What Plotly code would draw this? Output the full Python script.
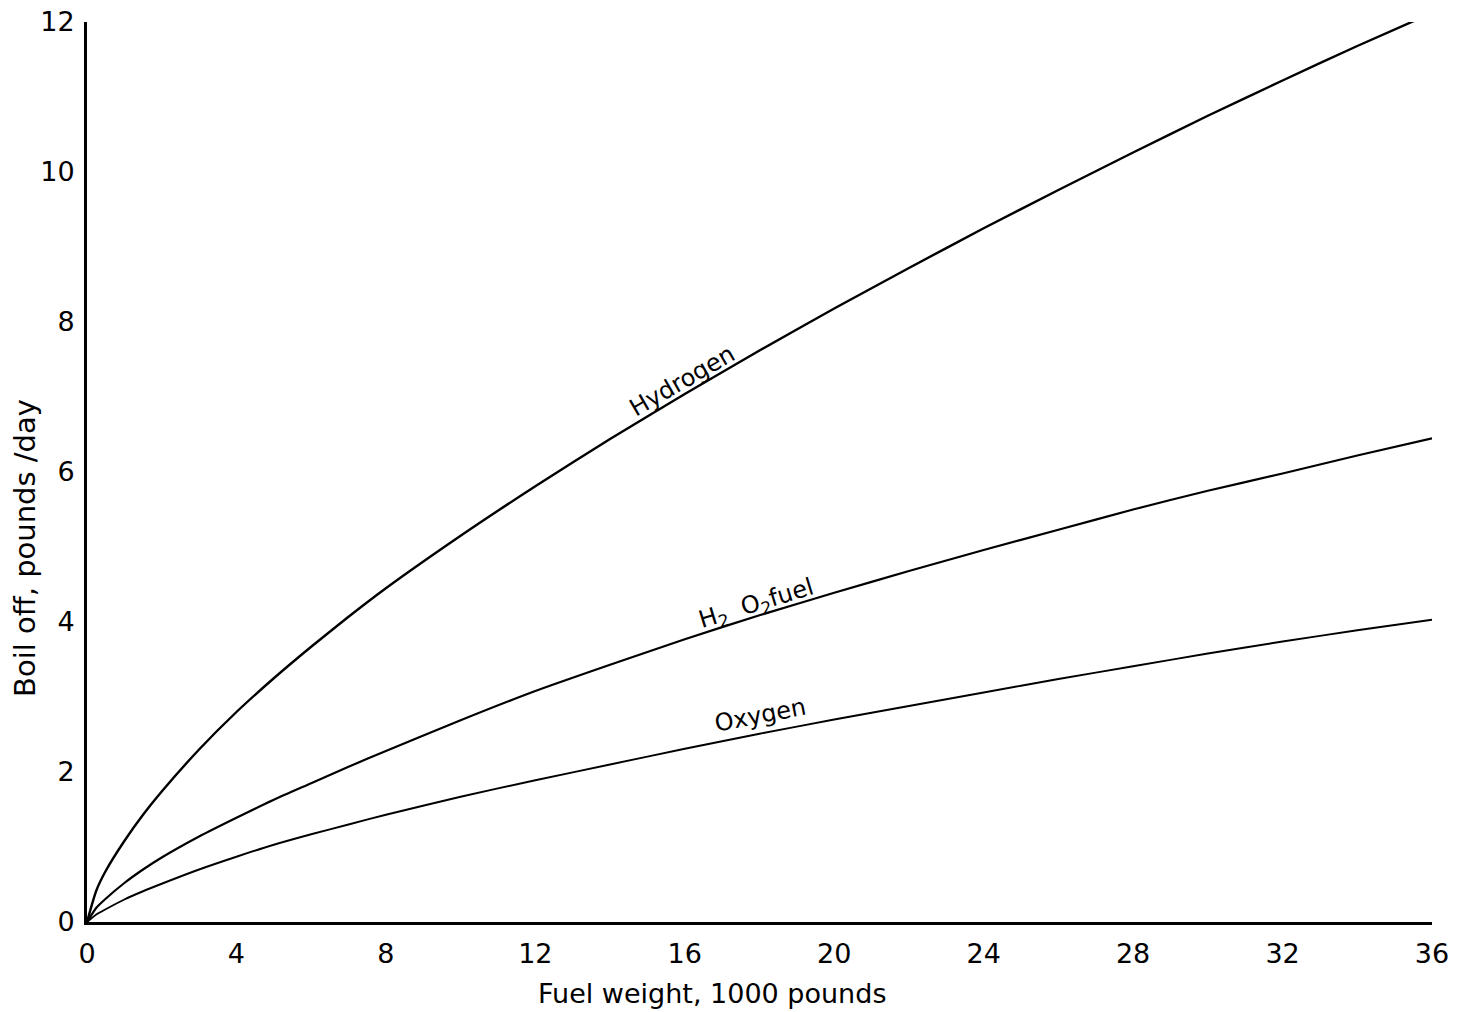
import plotly.graph_objects as go

# Fuel weight, 1000 pounds
fuel_weight = [0, 0.25, 0.5, 1, 1.5, 2, 3, 4, 5, 6, 7, 8, 10, 12, 14, 16, 18, 20,
               22, 24, 26, 28, 30, 32, 34, 36]
# Boil off, pounds/day
hydrogen = [0, 0.42, 0.68, 1.08, 1.43, 1.74, 2.3, 2.8, 3.25, 3.67, 4.07, 4.45, 5.15,
            5.81, 6.44, 7.04, 7.62, 8.18, 8.72, 9.25, 9.76, 10.26, 10.75, 11.22, 11.68, 12.12]
h2o2_fuel = [0, 0.19, 0.31, 0.52, 0.7, 0.86, 1.14, 1.39, 1.63, 1.85, 2.07, 2.28, 2.69,
             3.08, 3.43, 3.77, 4.09, 4.39, 4.68, 4.96, 5.23, 5.5, 5.75, 5.98, 6.22, 6.45]
oxygen = [0, 0.1, 0.17, 0.3, 0.41, 0.51, 0.7, 0.87, 1.03, 1.17, 1.3, 1.43, 1.67,
          1.89, 2.1, 2.31, 2.51, 2.7, 2.88, 3.06, 3.24, 3.41, 3.58, 3.74, 3.89, 4.03]

x_ticks = [0, 4, 8, 12, 16, 20, 24, 28, 32, 36]
y_ticks = [0, 2, 4, 6, 8, 10, 12]

FONT = "DejaVu Sans"

fig = go.Figure()
for name, ys, w in [("Hydrogen", hydrogen, 2.4), ("H2 O2 fuel", h2o2_fuel, 2.2),
                    ("Oxygen", oxygen, 1.9)]:
    fig.add_trace(go.Scatter(x=fuel_weight, y=ys, mode="lines", name=name,
                             line=dict(color="black", width=w, shape="spline", smoothing=0.6),
                             showlegend=False, cliponaxis=False))

fig.update_layout(
    width=1457, height=1012,
    margin=dict(l=79, r=33, t=14, b=98, autoexpand=False),
    paper_bgcolor="white", plot_bgcolor="white",
    font=dict(family=FONT, color="black", size=27),
    xaxis=dict(range=[0, 36], tickvals=x_ticks, ticktext=[str(v) for v in x_ticks],
               showgrid=False, zeroline=False, showline=True, linecolor="black",
               linewidth=3, ticks="", ticklabelstandoff=6, automargin=False,
               ticklabeloverflow="allow",
               tickfont=dict(family=FONT, size=27, color="black")),
    yaxis=dict(range=[0, 12], tickvals=y_ticks, ticktext=[str(v) for v in y_ticks],
               showgrid=False, zeroline=False, showline=True, linecolor="black",
               linewidth=3, ticks="", ticklabelstandoff=4, automargin=False,
               ticklabeloverflow="allow",
               tickfont=dict(family=FONT, size=27, color="black")),
    annotations=[
        dict(text="Fuel weight, 1000 pounds", xref="paper", yref="paper",
             x=0.4647, y=-0.0789, showarrow=False, xanchor="center", yanchor="middle",
             font=dict(family=FONT, size=27, color="black")),
        dict(text="Boil off, pounds /day", xref="paper", yref="paper",
             x=-0.0461, y=0.4156, showarrow=False, textangle=-90,
             xanchor="center", yanchor="middle",
             font=dict(family=FONT, size=29, color="black")),
        dict(text="Hydrogen", xref="x", yref="y", x=15.93, y=7.21, showarrow=False,
             textangle=-30, font=dict(family=FONT, size=24, color="black")),
        dict(text="H<sub>2</sub>  O<sub>2</sub>fuel", xref="x", yref="y", x=17.93, y=4.24,
             showarrow=False, textangle=-17, font=dict(family=FONT, size=24, color="black")),
        dict(text="Oxygen", xref="x", yref="y", x=18.04, y=2.76, showarrow=False,
             textangle=-11, font=dict(family=FONT, size=24, color="black")),
    ],
)

fig.write_html("out.html")
